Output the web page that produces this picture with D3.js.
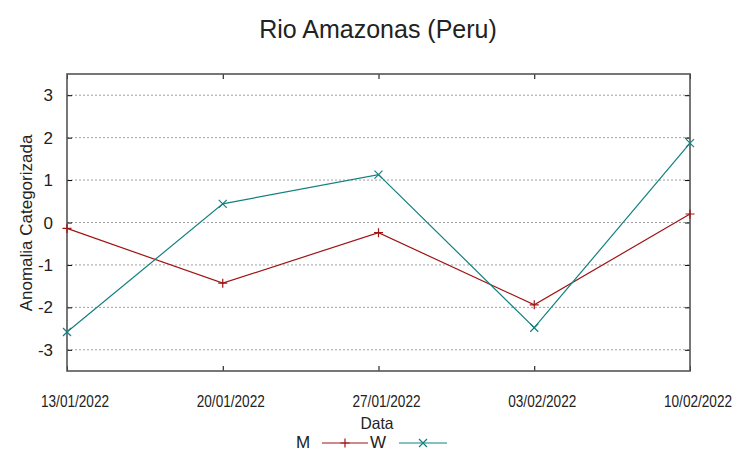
<!DOCTYPE html>
<html><head><meta charset="utf-8">
<script src="https://cdn.jsdelivr.net/npm/d3@7"></script>
<style>body{margin:0;background:#fff}text{font-family:"Liberation Sans",Arial,sans-serif;fill:#222}</style>
</head><body><svg id="c" width="753" height="459"></svg>
<script>
const dates = ["13/01/2022","20/01/2022","27/01/2022","03/02/2022","10/02/2022"];
const seriesM = [-0.14,-1.43,-0.24,-1.94,0.20];
const seriesW = [-2.58,0.44,1.13,-2.48,1.87];
const yTicks = [-3,-2,-1,0,1,2,3];
const title = "Rio Amazonas (Peru)";
const xTitle = "Data";
const yTitle = "Anomalia Categorizada";

const svg = d3.select("#c");
const L=67,R=690,T=74,B=371;
const x = d3.scalePoint().domain(dates).range([L,R]);
const y = d3.scaleLinear().domain([-3.5,3.5]).range([B,T]);

// grid
svg.append("g").selectAll("line").data(yTicks).join("line")
  .attr("x1",L).attr("x2",R).attr("y1",d=>y(d)).attr("y2",d=>y(d))
  .attr("stroke","#a0a0a0").attr("stroke-width",1).attr("stroke-dasharray","2,2");

// y axis left
const yl = svg.append("g").attr("transform",`translate(${L},0)`)
  .call(d3.axisRight(y).tickValues(yTicks).tickSize(5).tickFormat(""));
yl.select(".domain").remove();
yl.selectAll("line").attr("stroke","#000");
const yr = svg.append("g").attr("transform",`translate(${R},0)`)
  .call(d3.axisLeft(y).tickValues(yTicks).tickSize(5).tickFormat(""));
yr.select(".domain").remove();
yr.selectAll("line").attr("stroke","#000");
svg.append("g").selectAll("text").data(yTicks).join("text")
  .attr("x",53).attr("y",d=>y(d)+6).attr("text-anchor","end")
  .attr("font-size",17).text(d=>d);

// x axis ticks
const xb = svg.append("g").attr("transform",`translate(0,${B})`)
  .call(d3.axisTop(x).tickSize(5).tickFormat(""));
xb.select(".domain").remove();
xb.selectAll("line").attr("stroke","#000");
const xt = svg.append("g").attr("transform",`translate(0,${T})`)
  .call(d3.axisBottom(x).tickSize(5).tickFormat(""));
xt.select(".domain").remove();
xt.selectAll("line").attr("stroke","#000");
svg.append("g").selectAll("text").data(dates).join("text")
  .attr("x",d=>x(d)+8).attr("y",407).attr("text-anchor","middle")
  .attr("font-size",16).attr("textLength",68).attr("lengthAdjust","spacingAndGlyphs")
  .text(d=>d);

// frame
svg.append("rect").attr("x",L).attr("y",T).attr("width",R-L).attr("height",B-T)
  .attr("fill","none").attr("stroke","#555").attr("stroke-width",1.6);

// series
const colM="#a01414", colW="#138080";
const line = d3.line().x((d,i)=>x(dates[i])).y(d=>y(d));
function plus(cx,cy,s){return `M${cx-s},${cy}H${cx+s}M${cx},${cy-s}V${cy+s}`;}
function cross(cx,cy,s){return `M${cx-s},${cy-s}L${cx+s},${cy+s}M${cx-s},${cy+s}L${cx+s},${cy-s}`;}
svg.append("path").datum(seriesM).attr("d",line).attr("fill","none").attr("stroke",colM).attr("stroke-width",1.2);
svg.append("path").datum(seriesW).attr("d",line).attr("fill","none").attr("stroke",colW).attr("stroke-width",1.2);
svg.append("g").selectAll("path").data(seriesM).join("path")
  .attr("d",(d,i)=>plus(x(dates[i]),y(d),4.5)).attr("stroke",colM).attr("stroke-width",1.2);
svg.append("g").selectAll("path").data(seriesW).join("path")
  .attr("d",(d,i)=>cross(x(dates[i]),y(d),4)).attr("stroke",colW).attr("stroke-width",1.2);

// titles
svg.append("text").attr("x",378).attr("y",38).attr("text-anchor","middle").attr("font-size",25).text(title);
svg.append("text").attr("x",377).attr("y",429).attr("text-anchor","middle").attr("font-size",16.5).attr("textLength",33).attr("lengthAdjust","spacingAndGlyphs").text(xTitle);
svg.append("text").attr("transform","translate(32,223) rotate(-90)").attr("text-anchor","middle").attr("font-size",17).text(yTitle);

// legend
const leg = [{n:"M",c:colM,tx:303,lx1:322,lx2:368,m:plus},{n:"W",c:colW,tx:378,lx1:399,lx2:447,m:cross}];
leg.forEach(l=>{
  svg.append("text").attr("x",l.tx).attr("y",448).attr("text-anchor","middle").attr("font-size",17).text(l.n);
  svg.append("line").attr("x1",l.lx1).attr("x2",l.lx2).attr("y1",443).attr("y2",443).attr("stroke",l.c).attr("stroke-width",1.2);
  svg.append("path").attr("d",l.m((l.lx1+l.lx2)/2,443,l.n==="M"?4.5:4)).attr("stroke",l.c).attr("stroke-width",1.2);
});
</script></body></html>
